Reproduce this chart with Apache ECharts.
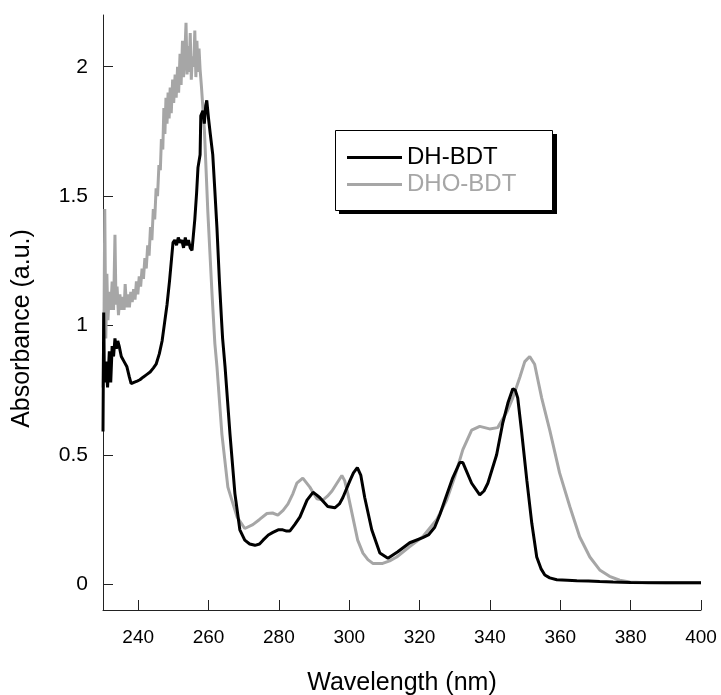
<!DOCTYPE html>
<html>
<head>
<meta charset="utf-8">
<script src="https://cdn.jsdelivr.net/npm/echarts@6/dist/echarts.min.js"></script>
<style>
html,body{margin:0;padding:0;background:#fff;}
#chart{width:721px;height:695px;}
</style>
</head>
<body>
<div id="chart"></div>
<script>
const seriesNames = ['DH-BDT', 'DHO-BDT'];
const xTicks = [240, 260, 280, 300, 320, 340, 360, 380, 400];
const yTicks = [0, 0.5, 1, 1.5, 2];

// [wavelength (nm), absorbance (a.u.)]
const dhBdt = [
  [230.0,0.59],[230.2,1.05],[230.4,0.78],[230.8,0.86],[231.3,0.76],[231.8,0.90],[232.2,0.78],
  [232.6,0.92],[233.0,0.88],[233.4,0.95],[233.8,0.91],[234.2,0.94],[234.6,0.92],[235.2,0.88],
  [236.0,0.86],[236.8,0.84],[237.5,0.80],[238.0,0.775],[238.8,0.78],[239.7,0.785],[240.5,0.79],
  [241.4,0.80],[242.4,0.81],[243.4,0.82],[244.3,0.835],[245.1,0.85],[246.0,0.89],[246.8,0.94],
  [247.5,1.01],[248.2,1.08],[248.9,1.17],[249.5,1.26],[249.9,1.32],[250.4,1.33],[250.9,1.31],
  [251.4,1.34],[251.9,1.32],[252.4,1.33],[252.9,1.30],[253.4,1.34],[253.8,1.31],[254.3,1.33],
  [254.8,1.30],[255.3,1.29],[255.7,1.35],[256.1,1.41],[256.6,1.51],[257.0,1.61],[257.6,1.66],
  [257.8,1.81],[258.4,1.83],[258.8,1.78],[259.2,1.85],[259.5,1.87],[260.0,1.80],[260.5,1.74],
  [261.2,1.66],[261.8,1.52],[262.4,1.375],[263.1,1.17],[263.7,1.02],[264.0,0.95],[264.7,0.84],
  [266.1,0.58],[267.5,0.35],[268.9,0.21],[270.3,0.17],[271.7,0.155],[273.2,0.15],[274.5,0.155],
  [275.5,0.17],[277.0,0.19],[278.3,0.20],[279.8,0.21],[281.1,0.21],[282.2,0.205],[283.1,0.205],
  [284.5,0.23],[286.0,0.26],[288.0,0.325],[289.7,0.355],[290.7,0.345],[291.6,0.335],[293.9,0.30],
  [295.9,0.295],[297.2,0.31],[298.2,0.335],[300.2,0.40],[301.2,0.43],[302.3,0.45],[303.3,0.42],
  [304.4,0.335],[306.4,0.21],[308.7,0.12],[311.0,0.10],[313.8,0.125],[317.2,0.16],[320.9,0.18],
  [322.5,0.19],[324.3,0.22],[325.8,0.27],[327.2,0.325],[329.4,0.41],[331.4,0.47],[332.3,0.47],
  [332.8,0.465],[334.8,0.39],[337.1,0.345],[338.3,0.36],[339.4,0.39],[341.9,0.50],[343.6,0.62],
  [345.1,0.70],[346.5,0.755],[347.2,0.75],[347.9,0.72],[349.0,0.59],[350.5,0.40],[351.9,0.235],
  [353.3,0.105],[354.5,0.06],[355.6,0.035],[357.0,0.024],[359.0,0.017],[362.0,0.015],[364.7,0.013],
  [368.0,0.012],[371.2,0.01],[375.0,0.008],[380.0,0.006],[390.0,0.005],[400.0,0.005]
];

const dhoBdt = [
  [230.0,0.76],[230.3,1.05],[230.5,1.45],[230.8,0.95],[231.1,1.20],[231.4,1.02],[231.8,1.13],
  [232.2,1.06],[232.6,1.17],[233.0,1.06],[233.4,1.35],[233.7,1.08],[234.0,1.15],[234.4,1.04],
  [234.8,1.12],[235.2,1.06],[235.6,1.11],[236.0,1.06],[236.3,1.16],[236.7,1.07],[237.1,1.12],
  [237.5,1.07],[237.9,1.13],[238.3,1.09],[238.7,1.14],[239.1,1.10],[239.5,1.17],[239.9,1.12],
  [240.3,1.19],[240.7,1.15],[241.1,1.22],[241.5,1.18],[241.9,1.26],[242.3,1.22],[242.7,1.31],
  [243.1,1.27],[243.5,1.38],[243.9,1.33],[244.3,1.45],[244.7,1.41],[245.1,1.53],[245.5,1.50],
  [245.9,1.62],[246.3,1.60],[246.6,1.72],[247.0,1.68],[247.3,1.84],[247.6,1.74],[247.9,1.88],
  [248.2,1.78],[248.5,1.90],[248.8,1.80],[249.1,1.92],[249.4,1.82],[249.8,1.95],[250.1,1.86],
  [250.5,1.97],[250.8,1.88],[251.2,2.00],[251.5,1.90],[251.9,2.05],[252.2,1.93],[252.6,2.10],
  [252.9,1.96],[253.3,2.06],[253.6,2.17],[253.9,1.97],[254.2,2.08],[254.5,1.98],[254.8,2.13],
  [255.1,1.95],[255.4,2.04],[255.8,2.00],[256.1,2.14],[256.4,1.96],[256.7,2.10],[257.0,1.98],
  [257.3,2.07],[257.6,1.99],[258.0,1.92],[258.4,1.84],[258.8,1.76],[259.0,1.70],[259.8,1.44],
  [261.0,1.12],[261.8,0.93],[262.4,0.84],[263.8,0.58],[265.5,0.375],[268.1,0.26],[270.3,0.215],
  [272.6,0.23],[274.5,0.25],[276.6,0.273],[278.2,0.275],[279.7,0.267],[281.2,0.285],[282.6,0.31],
  [284.0,0.35],[285.1,0.39],[286.8,0.41],[288.8,0.375],[290.8,0.33],[292.5,0.325],[293.8,0.34],
  [295.1,0.36],[296.5,0.39],[297.9,0.42],[298.7,0.40],[299.6,0.35],[301.0,0.26],[302.4,0.17],
  [303.9,0.12],[305.3,0.095],[306.7,0.08],[309.5,0.08],[311.5,0.09],[313.5,0.105],[317.2,0.145],
  [320.9,0.183],[324.9,0.25],[327.7,0.325],[330.0,0.415],[332.3,0.52],[334.8,0.595],[337.1,0.61],
  [339.9,0.60],[342.2,0.605],[344.8,0.665],[346.5,0.72],[348.5,0.80],[349.9,0.86],[351.3,0.88],
  [352.7,0.85],[354.7,0.72],[357.0,0.595],[359.8,0.43],[362.7,0.30],[365.5,0.183],[368.4,0.105],
  [371.2,0.055],[374.0,0.03],[376.9,0.015],[379.7,0.008],[385.0,0.005],[400.0,0.005]
];

const FONT = 'Liberation Sans, Arial, sans-serif';
const GRAY = '#a6a6a6';

const chart = echarts.init(document.getElementById('chart'), null, {renderer: 'canvas'});
chart.setOption({
  animation: false,
  backgroundColor: '#fff',
  grid: {left: 103, right: 20, top: 15, bottom: 85, containLabel: false, outerBoundsMode: 'none'},
  graphic: [
    {type: 'rect', z: 100, silent: true, shape: {x: 339, y: 134, width: 218, height: 80}, style: {fill: '#000'}},
    {type: 'rect', z: 101, silent: true, shape: {x: 335.5, y: 130.5, width: 217, height: 80}, style: {fill: '#fff', stroke: '#000', lineWidth: 1}}
  ],
  legend: {
    orient: 'vertical',
    left: 347, top: 144,
    padding: 0,
    itemGap: 0,
    itemWidth: 55, itemHeight: 3,
    icon: 'rect',
    z: 110,
    textStyle: {fontFamily: FONT, fontSize: 24, lineHeight: 27, padding: [0, 0, 0, 0]},
    data: [
      {name: seriesNames[0], textStyle: {color: '#000'}},
      {name: seriesNames[1], textStyle: {color: GRAY}}
    ]
  },
  xAxis: {
    type: 'value', min: 230, max: 400,
    name: 'Wavelength (nm)', nameLocation: 'middle', nameGap: 61,
    nameTextStyle: {fontFamily: FONT, fontSize: 25, color: '#000'},
    axisLine: {show: true, onZero: false, lineStyle: {color: '#222', width: 1}},
    axisTick: {show: true, inside: true, length: 10, customValues: xTicks, lineStyle: {color: '#222'}},
    axisLabel: {customValues: xTicks, margin: 18, fontFamily: FONT, fontSize: 19, color: '#000'},
    splitLine: {show: false}
  },
  yAxis: {
    type: 'value', min: -0.1, max: 2.2,
    name: 'Absorbance (a.u.)', nameLocation: 'middle', nameGap: 68,
    nameTextStyle: {fontFamily: FONT, fontSize: 25, color: '#000', padding: [0, 32, 0, 0]},
    axisLine: {show: true, onZero: false, lineStyle: {color: '#222', width: 1}},
    axisTick: {show: true, inside: true, length: 10, customValues: yTicks, lineStyle: {color: '#222'}},
    axisLabel: {customValues: yTicks, margin: 15, fontFamily: FONT, fontSize: 21, color: '#000'},
    splitLine: {show: false}
  },
  series: [
    {
      name: seriesNames[1], type: 'line', data: dhoBdt, symbol: 'none', z: 2,
      lineStyle: {color: GRAY, width: 3}, itemStyle: {color: GRAY}
    },
    {
      name: seriesNames[0], type: 'line', data: dhBdt, symbol: 'none', z: 3,
      lineStyle: {color: '#000', width: 3}, itemStyle: {color: '#000'}
    }
  ]
});
</script>
</body>
</html>
